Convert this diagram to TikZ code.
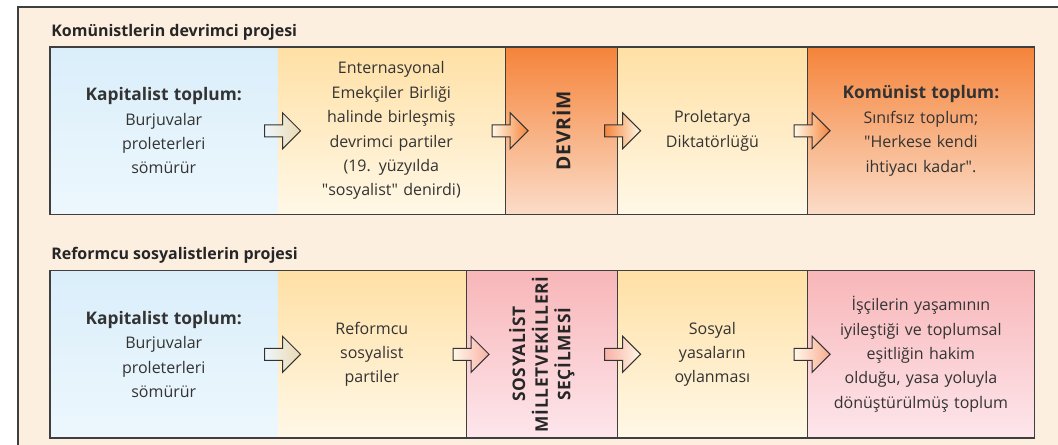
\documentclass[tikz,border=0pt]{standalone}
\usepackage{fontspec}
\setmainfont{Open Sans}
\usetikzlibrary{positioning, shadings}

\definecolor{paper}{HTML}{FDEFDF}
\definecolor{framecol}{HTML}{3F3F3F}
\definecolor{ink}{HTML}{333333}
\definecolor{blueTop}{HTML}{DAEEFA}
\definecolor{blueBot}{HTML}{EDF7FD}
\definecolor{yelTop}{HTML}{FFE0A5}
\definecolor{yelBot}{HTML}{FFF8E7}
\definecolor{oraTop}{HTML}{F5843A}
\definecolor{oraBot}{HTML}{FBDCC8}
\definecolor{pinkTop}{HTML}{F8B6B8}
\definecolor{pinkBot}{HTML}{FDE6EC}
\definecolor{beige}{HTML}{EDD9AE}

\begin{document}
\begin{tikzpicture}[
    x=0.75pt, y=-0.75pt,
    node distance=0pt and 0pt,
    cell/.style={rectangle, minimum height=125.25pt, inner sep=0pt, align=center,
      font=\fontsize{12}{18.3}\selectfont, text=ink},
    bluecell/.style={cell, top color=blueTop, bottom color=blueBot},
    yelcell/.style={cell, top color=yelTop, bottom color=yelBot},
    oracell/.style={cell, top color=oraTop, bottom color=oraBot},
    pinkcell/.style={cell, top color=pinkTop, bottom color=pinkBot},
    title/.style={inner sep=0pt, font=\fontsize{12}{14}\selectfont\bfseries, text=black!85},
    vtext/.style={rotate=90, inner sep=0pt, align=center, text=black!85,
      font=\fontsize{13}{17}\selectfont\bfseries\addfontfeature{LetterSpace=4}},
    pics/blockarr/.style 2 args={code={
      \draw[draw=black!80, line width=0.75pt, left color=#1, right color=#2]
        (-13.5pt,4.5pt) -- (0pt,4.5pt) -- (0pt,13.5pt) -- (13.5pt,0pt)
        -- (0pt,-13.5pt) -- (0pt,-4.5pt) -- (-13.5pt,-4.5pt) -- cycle;
    }},
    sep/.style={draw=framecol, line width=0.6pt},
    rowframe/.style={draw=framecol, line width=1pt}
]

\useasboundingbox (0,0) rectangle (1058,445);
\fill[paper] (18,7) rectangle (1058,445);
\draw[framecol, line width=1.1pt] (18,445) |- (1058,7);

% Row 1
\node[bluecell, minimum width=170.25pt, text width=160pt, anchor=north west]%
  (kap1) at (50,47) {\textbf{\fontsize{13}{18.3}\selectfont Kapitalist toplum:}\\
  Burjuvalar\\ proleterleri\\ sömürür};
\node[yelcell, minimum width=170.25pt, text width=160pt, right=of kap1] (parti1) {%
  Enternasyonal\\ Emekçiler Birliği\\ halinde birleşmiş\\ devrimci partiler\\
  (19. yüzyılda\\ \textquotedbl sosyalist\textquotedbl\ denirdi)};
\node[oracell, minimum width=84pt, right=of parti1] (devrim) {};
\node[yelcell, minimum width=141.75pt, text width=130pt, right=of devrim] (prol) {%
  Proletarya\\ Diktatörlüğü};
\node[oracell, minimum width=170.25pt, text width=160pt, right=of prol] (komun) {%
  \textbf{\fontsize{13}{18.3}\selectfont Komünist toplum:}\\ Sınıfsız toplum;\\
  \textquotedbl Herkese kendi\\ ihtiyacı kadar\textquotedbl.};
\node[vtext, font=\fontsize{14.5}{17}\selectfont\bfseries\addfontfeature{LetterSpace=5}]%
  (devrimtxt) at (devrim) {DEVRİM};

\node[title, above right=5pt and 0.75pt of kap1.north west] (title1) {Komünistlerin devrimci projesi};

% Row 2
\node[bluecell, minimum width=170.25pt, text width=160pt, below=42pt of kap1]%
  (kap2) {\textbf{\fontsize{13}{18.3}\selectfont Kapitalist toplum:}\\
  Burjuvalar\\ proleterleri\\ sömürür};
\node[yelcell, minimum width=141pt, text width=130pt, right=of kap2] (parti2) {%
  Reformcu\\ sosyalist\\ partiler};
\node[pinkcell, minimum width=113.25pt, right=of parti2] (secim) {};
\node[yelcell, minimum width=141.75pt, text width=130pt, right=of secim] (yasa) {%
  Sosyal\\ yasaların\\ oylanması};
\node[pinkcell, minimum width=170.25pt, text width=165pt, right=of yasa] (esit) {%
  İşçilerin yaşamının\\ iyileştiği ve toplumsal\\ eşitliğin hakim\\
  olduğu, yasa yoluyla\\ dönüştürülmüş toplum};
\node[vtext] (secimtxt) at (secim) {SOSYALİST\\ MİLLETVEKİLLERİ\\ SEÇİLMESİ};

\node[title, above right=5pt and 0.75pt of kap2.north west] (title2) {Reformcu sosyalistlerin projesi};

% Lines
\foreach \c in {parti1, devrim, prol, parti2, secim, yasa}
  \draw[sep] (\c.north east) -- (\c.south east);
\draw[rowframe] (kap1.north west) rectangle (komun.south east);
\draw[rowframe] (kap2.north west) rectangle (esit.south east);

% Arrows
\pic at ([xshift=3.75pt]kap1.east) {blockarr={blueBot}{beige}};
\pic at ([xshift=3.75pt]parti1.east) {blockarr={yelBot}{oraTop}};
\pic at ([xshift=3.75pt]devrim.east) {blockarr={oraTop}{yelBot}};
\pic at ([xshift=3.75pt]prol.east) {blockarr={yelBot}{oraTop}};

\pic at ([xshift=3.75pt]kap2.east) {blockarr={blueBot}{beige}};
\pic at ([xshift=3.75pt]parti2.east) {blockarr={yelBot}{pinkTop!90!orange}};
\pic at ([xshift=3.75pt]secim.east) {blockarr={pinkTop!90!orange}{yelBot}};
\pic at ([xshift=3.75pt]yasa.east) {blockarr={yelBot}{pinkTop!80!orange}};

\end{tikzpicture}
\end{document}
